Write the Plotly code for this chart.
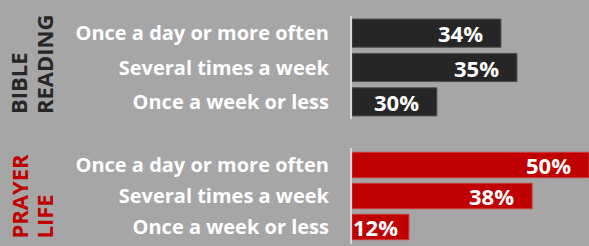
import plotly.graph_objects as go

categories = ["Once a day or more often", "Several times a week", "Once a week or less"]
bible_values = [34, 35, 30]
prayer_values = [50, 38, 12]
group_titles = [["BIBLE", "READING"], ["PRAYER", "LIFE"]]

BG = "#a6a6a6"
DARK = "#262626"
RED = "#c00000"
W, H = 589, 246
X0 = 352  # pixel where the bars start

top_range = [24.7, 39.5]
bot_range = [0, 50.0]

fig = go.Figure()
fig.add_trace(go.Bar(x=[v - top_range[0] for v in bible_values], y=categories, orientation="h",
                     base=top_range[0], xaxis="x", yaxis="y",
                     marker=dict(color=DARK, line=dict(color="#505050", width=1)),
                     hoverinfo="skip"))
fig.add_trace(go.Bar(x=prayer_values, y=categories, orientation="h",
                     xaxis="x2", yaxis="y2",
                     marker=dict(color=RED, line=dict(color="#cc3a3a", width=1)),
                     hoverinfo="skip"))

xdom = [X0 / W, 1]
ytop = [(H - 119) / H, (H - 16) / H]
ybot = [(H - 244) / H, (H - 148) / H]

axis_common = dict(showgrid=False, zeroline=False, showticklabels=False, fixedrange=True)
ycommon = dict(type="category", categoryorder="array", categoryarray=categories[::-1],
               showgrid=False, zeroline=False, showline=True, linecolor="#d9d9d9",
               linewidth=2, ticks="", ticklabelstandoff=17, fixedrange=True,
               tickfont=dict(family="Open Sans", size=20, color="white", weight="bold"))

fig.update_layout(
    width=W, height=H, margin=dict(l=0, r=0, t=0, b=0),
    paper_bgcolor=BG, plot_bgcolor=BG, showlegend=False, bargap=0.18,
    xaxis=dict(domain=xdom, range=top_range, anchor="y", **axis_common),
    yaxis=dict(domain=ytop, anchor="x", **ycommon),
    xaxis2=dict(domain=xdom, range=bot_range, anchor="y2", **axis_common),
    yaxis2=dict(domain=ybot, anchor="x2", **ycommon),
)

plot_w = W - X0
TEXT_W = 45
annotations = []
for vals, xr, xref, yref in [(bible_values, top_range, "x", "y"),
                             (prayer_values, bot_range, "x2", "y2")]:
    for cat, v in zip(categories, vals):
        bar_px = (v - xr[0]) / (xr[1] - xr[0]) * plot_w
        shift = -16
        if bar_px - 16 < TEXT_W + 3:
            shift = -(bar_px - TEXT_W - 3)
        annotations.append(dict(x=v, y=cat, xref=xref, yref=yref, text=f"{v}%",
                                showarrow=False, xanchor="right", xshift=shift,
                                font=dict(family="Open Sans", size=22, color="white",
                                          weight="bold")))

# group titles (rotated)
for (l1, l2), ybottom_px, color in [(group_titles[0], 115, DARK), (group_titles[1], 240, RED)]:
    for txt, xc in [(l1, 18), (l2, 43.5)]:
        annotations.append(dict(x=xc / W, y=(H - ybottom_px) / H, xref="paper", yref="paper",
                                text=txt, showarrow=False, textangle=-90,
                                xanchor="center", yanchor="bottom", borderpad=0,
                                font=dict(family="Open Sans", size=22, color=color,
                                          weight="bold")))

fig.update_layout(annotations=annotations)
fig.write_html("out.html", config={"displayModeBar": False},
               post_script="document.body.style.margin='0';")
